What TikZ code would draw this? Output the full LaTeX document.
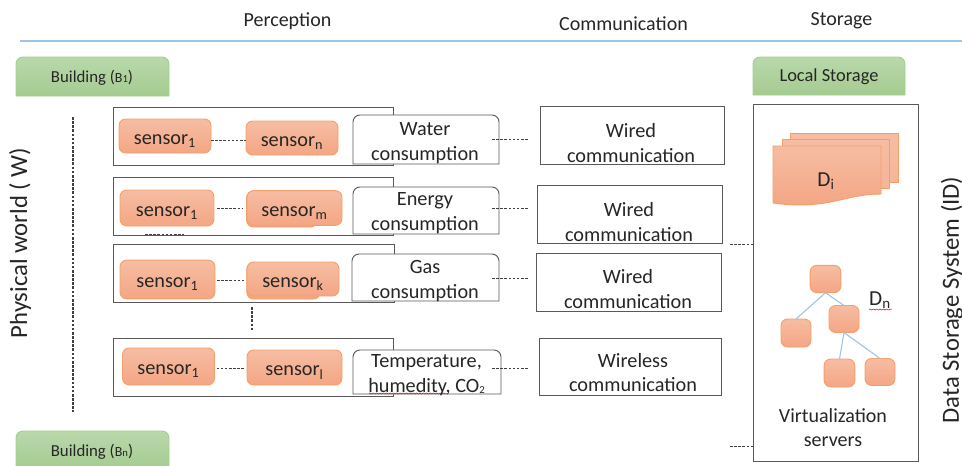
\documentclass[tikz,border=0pt]{standalone}
\usepackage{fontspec}
\setmainfont{Carlito}
\usetikzlibrary{decorations.pathmorphing}
\definecolor{orbd}{HTML}{F4A06C}
\definecolor{ortop}{HTML}{F6BDA3}
\definecolor{orbot}{HTML}{F4A684}
\definecolor{grbd}{HTML}{A3CF8E}
\definecolor{grtop}{HTML}{B9D8AB}
\definecolor{grbot}{HTML}{A5CB90}
\definecolor{txt}{HTML}{262626}
\definecolor{bluel}{HTML}{9DC3E6}
\definecolor{edgeg}{HTML}{595959}
\tikzset{
 x=0.75pt,y=-0.75pt,
 every node/.style={text=txt},
 base/.style={inner sep=0pt,outer sep=0pt,align=center,anchor=center},
 sensorbox/.style={base,rounded corners=5pt,draw=orbd,line width=.7pt,top color=ortop,bottom color=orbot,font=\fontsize{15.2}{17}\selectfont},
 groupbox/.style={base,draw=edgeg,line width=.7pt,fill=white},
 lbl/.style={base,font=\fontsize{15.2}{18.6}\selectfont},
 headtxt/.style={base,font=\fontsize{15}{17}\selectfont},
 sidetxt/.style={base,rotate=90,font=\fontsize{18.5}{22}\selectfont},
 dashln/.style={draw=black!75,line width=.6pt,dash pattern=on 2pt off 1.1pt},
 treelink/.style={draw=bluel,line width=.8pt},
 redwave/.style={draw=red!75!black,line width=.35pt,decorate,decoration={snake,amplitude=.4pt,segment length=2.5pt}},
}
\newcommand{\topround}[6]{% name x1 y1 x2 y2 style
 \path[#6] (#2,#5) -- (#2,#3+7) to[out=90,in=180] (#2+7,#3) -- (#4-7,#3) to[out=0,in=90] (#4,#3+7) -- (#4,#5) -- cycle;
 \coordinate (#1) at ({(#2+#4)/2},{(#3+#5)/2});
}
\newcommand{\sns}[1]{\raisebox{-6.2pt}[0pt][0pt]{sensor\textsubscript{#1}}}
\newcommand{\smallsub}[2]{{\fontsize{10.5}{12}\selectfont #1\fontsize{8}{9}\selectfont #2}}
\begin{document}
\begin{tikzpicture}
\useasboundingbox (0,0) rectangle (962,465);
\fill[white] (0,0) rectangle (962,465);
% headers
\node[headtxt] (hp) at (287.5,21) {Perception};
\node[headtxt] (hc) at (623.5,24) {Communication};
\node[headtxt] (hs) at (841.5,21) {Storage};
\coordinate (ruleL) at (20,41); \coordinate (ruleR) at (962,41);
\draw[bluel,line width=.8pt] (ruleL) -- (ruleR);
% buildings
\topround{b1}{16}{57}{169}{96}{draw=grbd,line width=.7pt,top color=grtop,bottom color=grbot}
\node[base,font=\fontsize{12.6}{14}\selectfont] (b1t) at (92,78) {Building (\smallsub{B}{1})};
\topround{bn}{16}{431}{169}{470}{draw=grbd,line width=.7pt,top color=grtop,bottom color=grbot}
\node[base,font=\fontsize{12.6}{14}\selectfont] (bnt) at (92,452) {Building (\smallsub{B}{n})};
\topround{ls}{753}{57}{905}{95}{draw=grbd,line width=.7pt,top color=grtop,bottom color=grbot}
\node[base,font=\fontsize{13.8}{16}\selectfont] (lst) at (829,77) {Local Storage};
% side
\node[sidetxt] (pw) at (20,243) {Physical world ( W)};
\node[sidetxt] (ds) at (952,300) {Data Storage System (ID)};
\coordinate (vt) at (73,117); \coordinate (vb) at (73,412);
\draw[dashln,line width=.9pt] (vt) -- (vb);
% groups
\node[groupbox,minimum width=210pt,minimum height=43.5pt] (g1) at (253,136) {};
\node[groupbox,minimum width=210pt,minimum height=43.5pt] (g2) at (253,206) {};
\node[groupbox,minimum width=210.75pt,minimum height=43.5pt] (g3) at (253.5,273) {};
\node[groupbox,minimum width=210pt,minimum height=43.5pt] (g4) at (253,367) {};
% sensors partly hidden behind others
\node[sensorbox,minimum width=53pt,minimum height=27pt] (hm) at (282,209) {};
\node[sensorbox,minimum width=55pt,minimum height=27pt] (hk) at (283.5,281) {};
% sensors
\node[sensorbox,minimum width=69pt,minimum height=25.5pt] (s11) at (165,136) {\sns{1}};
\node[sensorbox,minimum width=69pt,minimum height=25.5pt] (s1n) at (292,138) {\sns{n}};
\node[sensorbox,minimum width=70.5pt,minimum height=27pt] (s21) at (167,208) {\sns{1}};
\node[sensorbox,minimum width=71.25pt,minimum height=26pt] (s2m) at (294.5,208) {\sns{m}};
\node[sensorbox,minimum width=71.25pt,minimum height=29pt] (s31) at (167.5,279.5) {\sns{1}};
\node[sensorbox,minimum width=69pt,minimum height=25.5pt] (s3k) at (293,279) {\sns{k}};
\node[sensorbox,minimum width=69pt,minimum height=27.75pt] (s41) at (168.5,366.5) {\sns{1}};
\node[sensorbox,minimum width=71.25pt,minimum height=26.25pt] (s4l) at (294.5,367.5) {\sns{l}};
\coordinate (lk1) at (0,140); \coordinate (lk2) at (0,208); \coordinate (lk3) at (0,280); \coordinate (lk4) at (0,368);
\draw[dashln] (s11.east |- lk1) -- (s1n.west |- lk1);
\draw[dashln,shorten <=2.2pt,shorten >=3pt] (s21.east |- lk2) -- (s2m.west |- lk2);
\draw[dashln,shorten <=1.5pt,shorten >=2.2pt] (s31.east |- lk3) -- (s3k.west |- lk3);
\draw[dashln,shorten <=1.5pt,shorten >=2.2pt] (s41.east |- lk4) -- (s4l.west |- lk4);
\coordinate (ex1) at (145,234.5); \coordinate (ex2) at (184,234.5);
\draw[dashln] (ex1) -- (ex2);
\coordinate (gv1) at (252,307); \coordinate (gv2) at (252,331);
\draw[dashln,line width=.9pt] (gv1) -- (gv2);
% consumption boxes
\topround{t1}{353}{115}{499}{164}{draw=edgeg,line width=.7pt,fill=white}
\node[lbl] (t1t) at (425,143) {Water\\consumption};
\topround{t2}{353}{187}{499}{234}{draw=edgeg,line width=.7pt,fill=white}
\node[lbl] (t2t) at (425,213.5) {Energy\\consumption};
\topround{t3}{352}{254}{499}{301}{draw=edgeg,line width=.7pt,fill=white}
\node[lbl] (t3t) at (425,281) {Gas\\consumption};
\topround{t4}{353}{350}{501}{394}{draw=edgeg,line width=.7pt,fill=white}
\node[lbl] (t4t) at (426.5,375) {Temperature,\\humedity, CO\raisebox{-.6pt}{\fontsize{8}{9}\selectfont 2}};
\coordinate (w1) at (369,393.5); \coordinate (w2) at (447,393.5);
\draw[redwave] (w1) -- (w2);
% communication
\node[groupbox,minimum width=138pt,minimum height=43pt] (c1) at (632,135.5) {};
\node[lbl] (c1t) at (631,143) {Wired\\communication};
\node[groupbox,minimum width=138.75pt,minimum height=43pt] (c2) at (629.5,214.5) {};
\node[lbl] (c2t) at (629,222) {Wired\\communication};
\node[groupbox,minimum width=138.75pt,minimum height=43.5pt] (c3) at (629,282) {};
\node[lbl] (c3t) at (628,289) {Wired\\communication};
\node[groupbox,minimum width=136.5pt,minimum height=43pt] (c4) at (630,367) {};
\node[lbl] (c4t) at (633,372.5) {Wireless\\communication};
\coordinate (d1) at (492,139); \coordinate (e1) at (529,139); \draw[dashln] (d1) -- (e1);
\coordinate (d2) at (492,208); \coordinate (e2) at (529,208); \draw[dashln] (d2) -- (e2);
\coordinate (d3) at (492,278); \coordinate (e3) at (529,278); \draw[dashln] (d3) -- (e3);
\coordinate (d4) at (492,368); \coordinate (e4) at (529,368); \draw[dashln] (d4) -- (e4);
% storage
\node[groupbox,minimum width=123.75pt,minimum height=267.75pt] (st) at (835.5,282.5) {};
\coordinate (f1) at (730,244); \coordinate (f2) at (730,446);
\draw[dashln] (f1) -- (f1-|st.west);
\draw[dashln] (f2) -- (f2-|st.west);
% documents
\path[draw=orbd,line width=.7pt,top color=ortop,bottom color=ortop!70!orbot] (790,133) rectangle (898,182);
\path[draw=orbd,line width=.7pt,top color=ortop,bottom color=ortop!60!orbot] (782,139) rectangle (889,188);
\path[draw=orbd,line width=.7pt,top color=ortop,bottom color=orbot] (773,146) -- (881,146) -- (881,194) .. controls (850,194) and (835,205) .. (800,205) .. controls (790,205) and (780,204) .. (773,203) -- cycle;
\node[base,font=\fontsize{16}{18}\selectfont] (di) at (826,181) {D\textsubscript{i}};
% tree
\node[sensorbox,minimum width=23pt,minimum height=20.5pt] (n1) at (825.5,279) {};
\node[sensorbox,minimum width=22.5pt,minimum height=21pt] (n2) at (796,333) {};
\node[sensorbox,minimum width=22.5pt,minimum height=20.25pt] (n3) at (844,319) {};
\node[sensorbox,minimum width=23pt,minimum height=21pt] (n4) at (839.5,373) {};
\node[sensorbox,minimum width=22.5pt,minimum height=20.25pt] (n5) at (880,372) {};
\draw[treelink] (n1.south) -- (n2.north);
\draw[treelink] (n1.south) -- (n3.north);
\draw[treelink] (n3.south) -- (n4.north);
\draw[treelink] (n3.south) -- (n5.north);
\node[base,font=\fontsize{16}{18}\selectfont] (dn) at (880,300) {D\textsubscript{n}};
\coordinate (w3) at (869,309.5); \coordinate (w4) at (892,309.5);
\draw[redwave] (w3) -- (w4);
\node[base,font=\fontsize{15}{18.5}\selectfont] (vs) at (833,427.5) {Virtualization\\servers};
\end{tikzpicture}
\end{document}
